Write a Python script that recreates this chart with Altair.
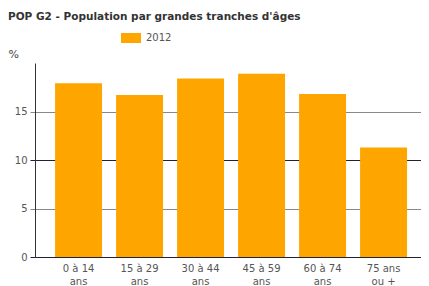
import altair as alt
import pandas as pd

categories = ["0 à 14|ans", "15 à 29|ans", "30 à 44|ans", "45 à 59|ans", "60 à 74|ans", "75 ans|ou +"]
values_2012 = [17.9, 16.7, 18.4, 18.9, 16.8, 11.3]
series_name = "2012"
y_ticks = [0, 5, 10, 15]

df = pd.DataFrame({"cat": categories, "val": values_2012, "serie": [series_name] * len(categories)})

FONT = "DejaVu Sans"

chart = alt.Chart(df).mark_bar(color="#FFA500").encode(
    x=alt.X("cat:N", sort=categories, title=None,
            scale=alt.Scale(paddingInner=0.23, paddingOuter=0.279, align=0.59),
            axis=alt.Axis(labelExpr="split(datum.label, '|')", labelAngle=0,
                          ticks=False, domainColor="#222233", domainWidth=1,
                          labelFont=FONT, labelFontSize=10, labelColor="#555555",
                          labelPadding=6, labelLineHeight=13)),
    y=alt.Y("val:Q", title="%", scale=alt.Scale(domain=[0, 20], nice=False),
            axis=alt.Axis(values=y_ticks, grid=True,
                          gridColor=alt.condition("datum.value % 10 == 0", alt.value("#222233"), alt.value("#888888")),
                          gridWidth=1.2,
                          tickColor=alt.condition("datum.value % 10 == 0", alt.value("#222233"), alt.value("#888888")),
                          tickSize=5, domainColor="#333333",
                          labelFont=FONT, labelFontSize=10, labelColor="#555555", labelPadding=3,
                          titleAngle=0, titleX=-27, titleY=-4, titleAlign="left",
                          titleBaseline="bottom", titleFont=FONT, titleFontSize=11,
                          titleFontWeight="normal", titleColor="#444444")),
    color=alt.Color("serie:N", scale=alt.Scale(range=["#FFA500"]),
                    legend=alt.Legend(title=None, orient="none", legendX=86, legendY=-35,
                                      symbolType="M-1,-0.5H1V0.5H-1Z", symbolSize=400,
                                      symbolStrokeWidth=0, labelFont=FONT, labelFontSize=10,
                                      labelColor="#555555", labelOffset=5)),
).properties(
    width=386, height=194,
    title=alt.TitleParams("POP G2 - Population par grandes tranches d'âges",
                          anchor="start", frame="group", dx=-27, offset=6,
                          font=FONT, fontSize=10.5, fontWeight="bold", color="#333333"),
    autosize=alt.AutoSizeParams(type="none"),
    padding={"left": 27, "top": 55, "right": 0, "bottom": 28},
).configure_view(stroke=None)

chart.save("out.html", embed_options={"renderer": "svg", "actions": False})
